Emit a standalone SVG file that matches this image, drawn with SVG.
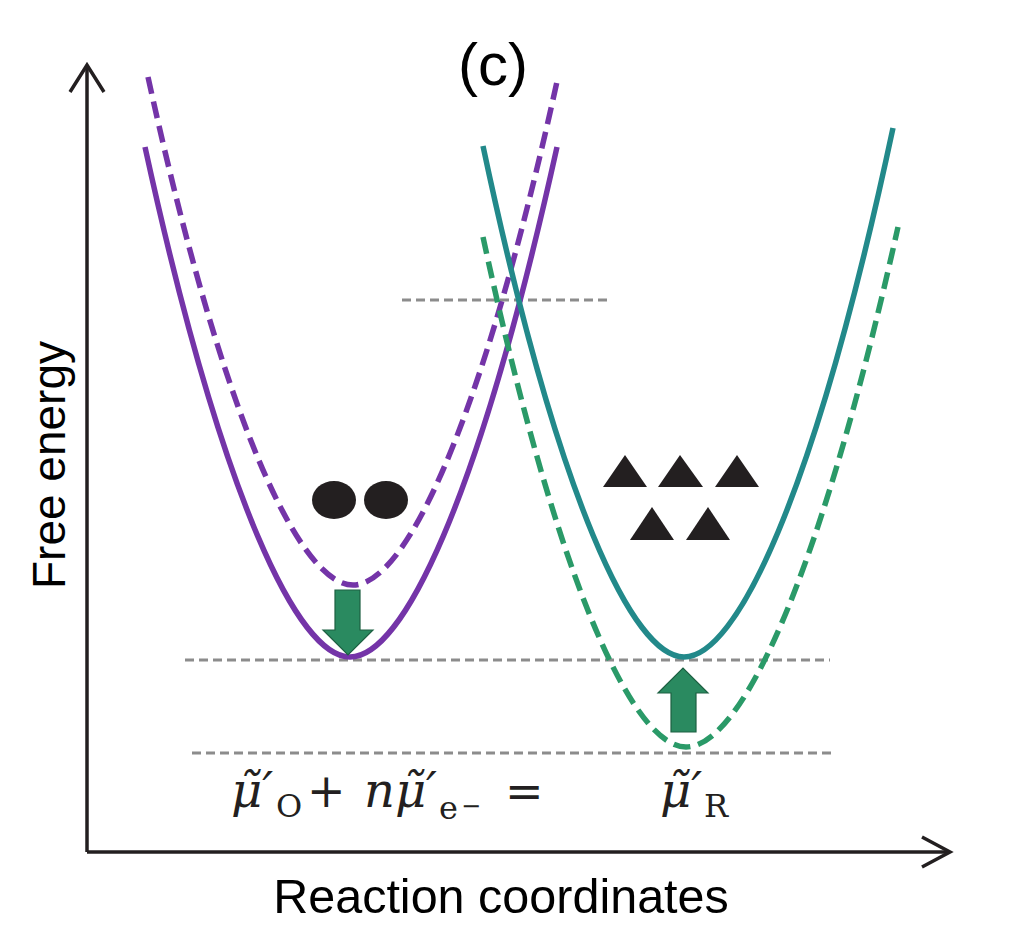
<svg xmlns="http://www.w3.org/2000/svg" width="1020" height="952" viewBox="0 0 1020 952">
<style>
.lbl{font-family:"Liberation Sans",Arial,sans-serif;fill:#000}
.math{font-family:"DejaVu Serif","Liberation Serif",serif;fill:#231f20}
.it{font-style:italic}
.axis{stroke:#231f20;stroke-width:3.5;fill:none}
.ref{stroke:#8c8c8c;stroke-width:3;stroke-dasharray:9 5;fill:none}
.cv{fill:none;stroke-width:5.5;stroke-linecap:butt}
.dash{stroke-dasharray:17 8}
.arr{fill:#2a8a60;stroke:#1d6042;stroke-width:1.2}
.part{fill:#231f20}
</style>
<rect width="1020" height="952" fill="#fff"/>
<g id="axes">
<path class="axis" d="M87,852 V66"/>
<path class="axis" d="M70,92 L87,65 L104,92"/>
<path class="axis" d="M87,852 H950"/>
<path class="axis" d="M922,837 L950,852 L922,867"/>
</g>
<g id="reference-lines">
<path class="ref" d="M402,300 H610"/>
<path class="ref" d="M185,660 H830"/>
<path class="ref" d="M192,753 H835"/>
</g>
<g id="curves">
<path id="purple-dashed" class="cv dash" stroke="#7434a8" d="M148,77 C226,433 302,585 353,585 C404,585 480,433 558,77"/>
<path id="purple-solid" class="cv" stroke="#7434a8" d="M145,147 C223,504 299,657 350,657 C402,657 478,504 557,147"/>
<path id="green-dashed" class="cv dash" stroke="#2a9a68" d="M483,237 C560,594 635,747 686,747 C739,747 817,591 898,227"/>
<path id="teal-solid" class="cv" stroke="#22898a" d="M483,146 C559,504 634,657 684,657 C736,657 814,498 893,128"/>
</g>
<g id="arrow-down">
<path class="arr" d="M335,590 H360 V630 H373 L348,655 L323,630 H335 Z"/>
</g>
<g id="arrow-up">
<path class="arr" d="M671,732 H696 V693 H708 L683,668 L658,693 H671 Z"/>
</g>
<g id="particles-O">
<ellipse class="part" cx="334" cy="500" rx="22" ry="19"/>
<ellipse class="part" cx="386" cy="500" rx="22" ry="19"/>
</g>
<g id="particles-R">
<path class="part" d="M625,455 L647,487 L603,487 Z"/>
<path class="part" d="M680,455 L703,487 L658,487 Z"/>
<path class="part" d="M737,455 L759,487 L715,487 Z"/>
<path class="part" d="M652,507 L674,540 L630,540 Z"/>
<path class="part" d="M708,507 L730,540 L686,540 Z"/>
</g>
<g id="labels">
<text class="lbl" x="493" y="85" font-size="60" text-anchor="middle">(c)</text>
<text class="lbl" font-size="46" text-anchor="middle" transform="translate(65,465) rotate(-90)">Free energy</text>
<text class="lbl" x="501" y="913" font-size="48.5" text-anchor="middle">Reaction coordinates</text>
</g>
<g id="equation">
<text class="math" font-size="48" y="807"><tspan class="it" x="231">μ̃′</tspan><tspan x="276" y="817" font-size="32">O</tspan><tspan x="307" y="807" font-size="46">+</tspan><tspan class="it" x="364">nμ̃′</tspan><tspan x="439" y="819" font-size="32">e</tspan><tspan x="461" y="814" font-size="24">−</tspan><tspan x="505" y="807" font-size="46">=</tspan></text>
<text class="math" font-size="48" y="807"><tspan class="it" x="660">μ̃′</tspan><tspan x="704" y="817" font-size="32">R</tspan></text>
</g>
</svg>
